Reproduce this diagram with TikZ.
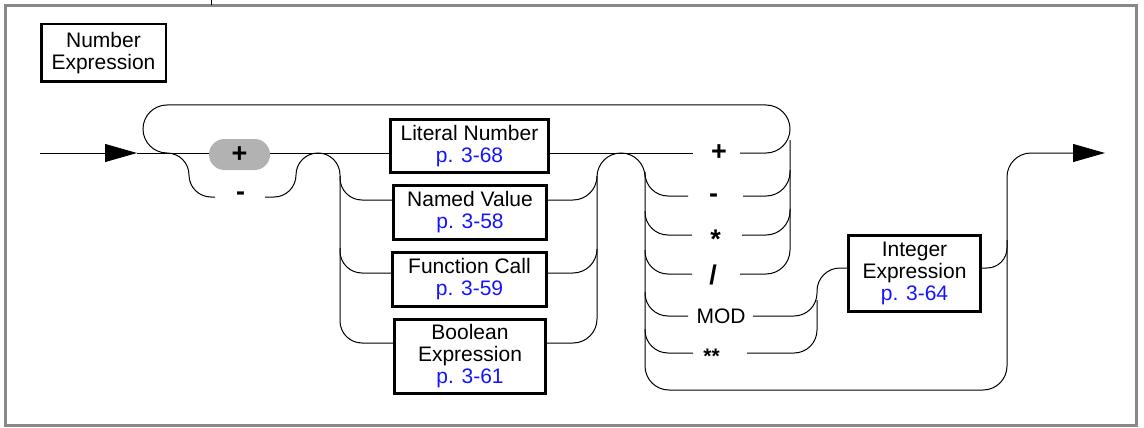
\documentclass[tikz,border=0pt]{standalone}
\usepackage{fontspec}
\setmainfont{Liberation Sans}
\usetikzlibrary{arrows.meta}
\definecolor{linkblue}{RGB}{20,20,255}
\definecolor{framegray}{RGB}{136,136,136}
\newcommand{\pglink}[1]{\textcolor{linkblue}{#1}}
\begin{document}
\begin{tikzpicture}[x=1pt,y=-1pt,
  every node/.style={font=\fontsize{21pt}{22pt}\selectfont},
  rr/.style={draw, line width=3pt, align=center, inner sep=0pt},
  ln/.style={line width=1pt, rounded corners=#1},
  ln/.default=23pt,
  op/.style={anchor=base, inner sep=0pt, font=\fontsize{27pt}{28pt}\selectfont\bfseries},
  ops/.style={anchor=base, inner sep=0pt, font=\fontsize{21pt}{22pt}\selectfont\bfseries},
  opn/.style={anchor=base, inner sep=0pt, font=\fontsize{21pt}{22pt}\selectfont},
  pill/.style={fill=black!30, rounded corners=15.5pt, minimum width=61pt, minimum height=31pt, inner sep=0pt, font=\fontsize{27pt}{28pt}\selectfont\bfseries},
  tip/.style={-{Triangle[length=32pt,width=18pt]}}
]
\useasboundingbox (0,0) rectangle (1144,428);
% frame
\draw[line width=3pt, framegray] (5.5,5.5) rectangle (1136.5,425);
\draw[line width=1pt] (211,0) -- (211,5);

% title
\node[rr, line width=2.5pt, minimum width=124.5pt, minimum height=57.5pt] (title) at (103.5,53) {Number\\Expression};

% boxes
\node[rr, minimum width=158pt, minimum height=53pt] (lit) at (469.5,146) {Literal Number\\\pglink{p. 3-68}};
\node[rr, minimum width=153pt, minimum height=54pt] (nv) at (470,212.5) {Named Value\\\pglink{p. 3-58}};
\node[rr, minimum width=154pt, minimum height=54pt] (fc) at (469.5,279.5) {Function Call\\\pglink{p. 3-59}};
\node[rr, minimum width=151pt, minimum height=74pt] (be) at (470,356.5) {Boolean\\Expression\\\pglink{p. 3-61}};
\node[rr, minimum width=132pt, minimum height=76pt] (ie) at (914.5,273.5) {Integer\\Expression\\\pglink{p. 3-64}};

% sign choice
\node[pill] (plus) at (239.5,154.5) {+};
\node[op] (minus) at (240.5,200) {-};

% operators
\node[op] (o1) at (719,160.5) {+};
\node[op] (o2) at (713.5,202) {-};
\node[op] (o3) at (715.5,248) {*};
\node[op] (o4) at (713,284.5) {/};
\node[opn] (o5) at (721,323) {MOD};
\node[ops] (o6) at (711.5,363) {**};

% coordinates
\coordinate (start) at (40,153);
\coordinate (tipL) at (137,153);
\coordinate (tipR) at (1105,153);

% entry
\draw[ln, tip] (start) -- (tipL);
\draw[ln] (tipL) -- (plus.west |- 0,153);
\draw[ln] (plus.east |- 0,153) -- (lit.west |- 0,153);

% loop back over everything
\draw[ln=24pt] (740,153) -- (790,153) -- (790,105) -- (143,105) -- (143,153) -- (167,153);

% minus branch
\draw[ln=22pt] (167,153) -- (189,153) -- (189,197) -- (215,197);
\draw[ln=22pt] (265,197) -- (296,197) -- (296,153) -- (340,153) -- (340,343) -- (be.west |- 0,343);
\draw[ln=22pt] (340,176) -- (340,200) -- (nv.west |- 0,200);
\draw[ln=22pt] (340,248) -- (340,273) -- (fc.west |- 0,273);

% box outputs
\draw[ln=24pt] (nv.east |- 0,200) -- (597,200) -- (597,176);
\draw[ln=24pt] (fc.east |- 0,273) -- (597,273) -- (597,249);
\draw[ln=24pt, tip] (be.east |- 0,343) -- (597,343) -- (597,153) -- (645,153) -- (645,390) -- (1007,390) -- (1007,153) -- (tipR);

% operator rows
\draw[ln] (lit.east |- 0,153) -- (693,153);
\draw[ln] (645,172) -- (645,196) -- (688,196);
\draw[ln=24pt] (743,196) -- (790,196) -- (790,170);
\draw[ln] (645,211) -- (645,235) -- (692,235);
\draw[ln=24pt] (742,235) -- (790,235) -- (790,209);
\draw[ln] (645,250) -- (645,274) -- (692,274);
\draw[ln=24pt] (740,274) -- (790,274) -- (790,140);
\draw[ln] (645,292) -- (645,316) -- (688,316);
\draw[ln] (753,316) -- (817,316) -- (817,268) -- (ie.west |- 0,268);
\draw[ln] (645,329) -- (645,353) -- (693,353);
\draw[ln] (747,353) -- (817,353) -- (817,300);

% integer expression exit
\draw[ln=20pt] (ie.east |- 0,268) -- (1007,268) -- (1007,240);
\end{tikzpicture}
\end{document}
